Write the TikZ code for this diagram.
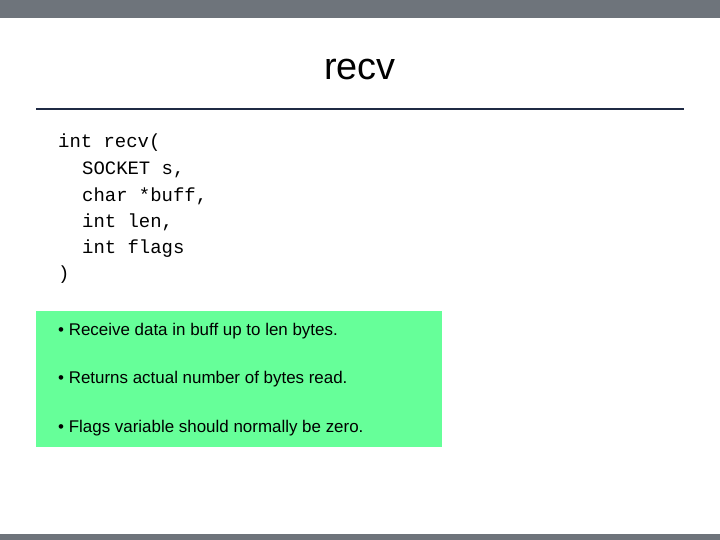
\documentclass[tikz,border=0pt]{standalone}
\usepackage{fontspec}
\setmainfont{Liberation Sans}
\setmonofont{Liberation Mono}
\definecolor{barGray}{HTML}{6E747B}
\definecolor{ruleNavy}{HTML}{1F2A44}
\definecolor{boxGreen}{HTML}{66FF99}
\tikzset{
  codeline/.style={anchor=west, inner sep=0pt, font=\ttfamily\fontsize{19}{22}\selectfont},
  bulletline/.style={anchor=west, inner sep=0pt, font=\fontsize{17}{20}\selectfont}
}
\begin{document}
\begin{tikzpicture}[x=1bp,y=-1bp]
  \useasboundingbox (0,0) rectangle (720,540);
  % bars
  \fill[barGray] (0,0) rectangle (720,18);
  \fill[barGray] (0,534) rectangle (720,540);
  % title
  \node (title) at (360,70) {\fontsize{38}{44}\selectfont recv};
  \draw[ruleNavy, line width=2.5bp] (36,109) -- (684,109);
  % code
  \node[codeline] (c1) at (58,143) {int recv(};
  \node[codeline] (c2) at (82,170) {SOCKET s,};
  \node[codeline] (c3) at (82,196) {char *buff,};
  \node[codeline] (c4) at (82,222) {int len,};
  \node[codeline] (c5) at (82,249) {int flags};
  \node[codeline] (c6) at (58,275) {)};
  % box
  \fill[boxGreen] (36,311) rectangle (442,447);
  \node[bulletline] (b1) at (58,331) {• Receive data in buff up to len bytes.};
  \node[bulletline] (b2) at (58,379) {• Returns actual number of bytes read.};
  \node[bulletline] (b3) at (58,428) {• Flags variable should normally be zero.};
\end{tikzpicture}
\end{document}
